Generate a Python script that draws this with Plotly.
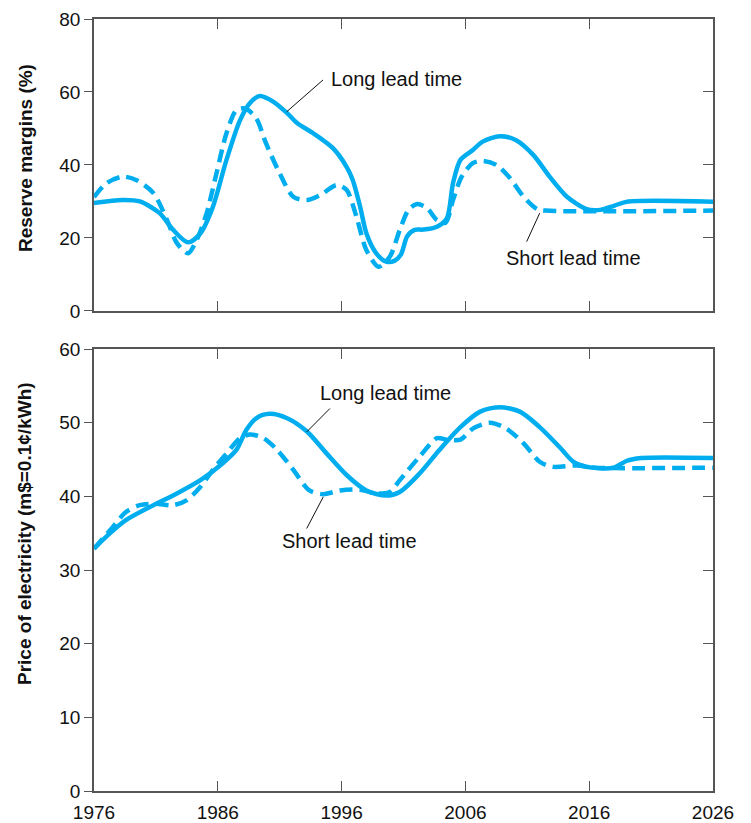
import plotly.graph_objects as go

# ---------------- data ----------------
top_long_year = [1976, 1978.3, 1979.7, 1981.3, 1982.4, 1983.6, 1984.6, 1985.6, 1986.7, 1987.8,
                 1988.6, 1989.4, 1990.5, 1991.6, 1992.4, 1993.7, 1995.3, 1996.4, 1996.9, 1997.5,
                 1998.0, 1998.8, 1999.6, 2000.3, 2000.8, 2001.3, 2001.9, 2002.6, 2003.7, 2004.5,
                 2005.0, 2005.6, 2006.6, 2007.4, 2008.8, 2010.1, 2011.5, 2012.8, 2014.2, 2015.8,
                 2016.9, 2018.0, 2019.0, 2026]
top_long_val = [29.6, 30.4, 30.0, 26.8, 22.2, 18.8, 21.3, 28.5, 41.4, 52.3,
                57.0, 58.9, 57.3, 54.2, 51.5, 48.7, 44.6, 39.5, 35.9, 28.5,
                21.3, 15.8, 13.5, 13.8, 15.5, 20.5, 22.2, 22.3, 23.1, 25.4,
                35.0, 41.4, 44.1, 46.4, 47.9, 46.8, 42.7, 36.8, 31.3, 27.9,
                27.7, 28.8, 29.9, 29.9]

top_short_year = [1976, 1977, 1978.3, 1979.4, 1980.8, 1981.9, 1982.7, 1983.6, 1984.3, 1985.1,
                  1985.9, 1986.7, 1987.5, 1988.2, 1989.1, 1989.9, 1991.0, 1992.1, 1993.2, 1994.3,
                  1995.6, 1996.4, 1997.2, 1998.0, 1999.0, 1999.9, 2000.7, 2001.4, 2002.1, 2002.9,
                  2003.7, 2004.4, 2005.0, 2005.7, 2006.6, 2007.4, 2008.5, 2009.6, 2010.7, 2011.8,
                  2012.5, 2026]
top_short_val = [31.2, 35.0, 36.8, 35.9, 32.3, 24.9, 18.6, 15.8, 19.5, 26.8,
                 37.8, 48.7, 55.0, 55.5, 52.8, 45.9, 37.7, 31.3, 30.4, 31.8,
                 34.5, 33.2, 25.8, 16.7, 12.1, 14.9, 22.2, 27.7, 29.3, 28.2,
                 24.9, 24.2, 30.4, 36.8, 40.5, 41.1, 40.0, 36.4, 31.3, 27.9,
                 27.5, 27.5]

bot_long_year = [1976, 1977.3, 1978.6, 1980.8, 1982.7, 1984.6, 1986.4, 1987.5, 1988.3, 1989.1,
                 1990.2, 1991.6, 1993.2, 1994.8, 1996.4, 1998.0, 1999.6, 2000.7, 2002.3, 2003.9,
                 2005.6, 2007.2, 2008.8, 2010.4, 2012.0, 2013.6, 2014.8, 2016.2, 2018.0, 2019.0,
                 2020.2, 2026]
bot_long_val = [32.9, 35.0, 36.8, 38.8, 40.4, 42.2, 44.5, 46.3, 49.0, 50.6,
                51.2, 50.6, 48.8, 45.8, 42.9, 40.8, 40.1, 40.6, 43.1, 46.3,
                49.4, 51.5, 52.1, 51.5, 49.4, 46.7, 44.6, 43.9, 43.9, 44.8,
                45.2, 45.2]

bot_short_year = [1976, 1977.3, 1978.6, 1979.7, 1981.0, 1982.4, 1983.5, 1984.6, 1985.6, 1986.7,
                  1987.8, 1988.6, 1989.7, 1990.8, 1992.1, 1993.4, 1994.5, 1995.9, 1997.5, 1998.8,
                  1999.9, 2000.7, 2002.3, 2003.7, 2004.5, 2005.6, 2006.6, 2008.0, 2009.3, 2010.7,
                  2012.0, 2013.1, 2015.0, 2016.5, 2026]
bot_short_val = [32.9, 35.4, 37.9, 38.8, 39.0, 38.8, 39.5, 41.3, 43.6, 45.8,
                 47.9, 48.4, 47.9, 46.3, 43.6, 40.8, 40.3, 40.8, 40.9, 40.4,
                 40.6, 42.2, 45.4, 47.9, 47.7, 47.7, 49.2, 50.0, 49.2, 47.2,
                 44.7, 44.0, 44.2, 43.9, 43.9]

year_ticks = [1976, 1986, 1996, 2006, 2016, 2026]
top_ticks = [0, 20, 40, 60, 80]
bot_ticks = [0, 10, 20, 30, 40, 50, 60]

label_long = "Long lead time"
label_short = "Short lead time"
title_top = "Reserve margins (%)"
title_bot = "Price of electricity (m$=0.1¢/kWh)"

# ---------------- style ----------------
CYAN = "#00AEEF"
FRAME = "#555555"
FONT = "Liberation Sans, Arial, Helvetica, sans-serif"
LW = 4.5
DASH = "13px,7px"

fig = go.Figure()

def add_line(x, y, xa, ya, dashed):
    fig.add_trace(go.Scatter(
        x=x, y=y, xaxis=xa, yaxis=ya, mode="lines",
        line=dict(color=CYAN, width=LW, shape="spline", smoothing=0.8,
                  dash=DASH if dashed else "solid"),
        showlegend=False, hoverinfo="skip"))

add_line(top_short_year, top_short_val, "x", "y", True)
add_line(top_long_year, top_long_val, "x", "y", False)
add_line(bot_short_year, bot_short_val, "x2", "y2", True)
add_line(bot_long_year, bot_long_val, "x2", "y2", False)

# invisible companions so the right-hand (inside-tick) axes are drawn
for xs, ys, xa, ya in [(top_long_year, top_long_val, "x", "y3"),
                       (bot_long_year, bot_long_val, "x2", "y4")]:
    fig.add_trace(go.Scatter(x=xs, y=ys, xaxis=xa, yaxis=ya, mode="lines",
                             line=dict(width=0, color="rgba(0,0,0,0)"),
                             showlegend=False, hoverinfo="skip"))

top_dom = [0.6218, 1.0]
bot_dom = [0.0, 0.5725]

xcommon = dict(range=[1976, 2026], tickvals=year_ticks, ticks="inside", ticklen=10,
               tickwidth=1.3, tickcolor=FRAME, showline=True, linecolor=FRAME, linewidth=1.5,
               mirror="ticks", showgrid=False, zeroline=False, automargin=False,
               ticklabelstandoff=3,
               tickfont=dict(family=FONT, size=19, color="#111"))

ycommon = dict(ticks="outside", ticklen=8, tickwidth=1.3, tickcolor=FRAME,
               showline=True, linecolor=FRAME, linewidth=1.5, mirror=True,
               showgrid=False, zeroline=False, automargin=False,
               tickfont=dict(family=FONT, size=19, color="#111"))

yright = dict(ticks="inside", ticklen=10, tickwidth=1.3, tickcolor=FRAME,
              showline=False, showgrid=False, zeroline=False, showticklabels=False,
              side="right", automargin=False)

fig.update_layout(
    width=751, height=823,
    margin=dict(l=94, r=38, t=19, b=32),
    paper_bgcolor="white", plot_bgcolor="white",
    xaxis=dict(**xcommon, domain=[0, 1], anchor="y", showticklabels=False),
    yaxis=dict(**ycommon, domain=top_dom, anchor="x", range=[0, 80], tickvals=top_ticks),
    xaxis2=dict(**xcommon, domain=[0, 1], anchor="y2", showticklabels=True),
    yaxis2=dict(**ycommon, domain=bot_dom, anchor="x2", range=[0, 60], tickvals=bot_ticks),
    yaxis3=dict(**yright, overlaying="y", anchor="x", range=[0, 80], tickvals=top_ticks),
    yaxis4=dict(**yright, overlaying="y2", anchor="x2", range=[0, 60], tickvals=bot_ticks),
)

# leader lines (annotation decoration)
leaders = [
    ("x", "y", 1991.57, 54.6, 1994.5, 63.3),
    ("x", "y", 2012.0, 26.8, 2010.95, 19.0),
    ("x2", "y2", 1993.18, 48.75, 1995.06, 51.93),
    ("x2", "y2", 1994.52, 39.93, 1993.18, 35.64),
]
for xr, yr, x0, y0, x1, y1 in leaders:
    fig.add_shape(type="line", xref=xr, yref=yr, x0=x0, y0=y0, x1=x1, y1=y1,
                  line=dict(color="#111", width=1))

labels = [
    ("x", "y", 1995.0, 63.6, label_long),
    ("x", "y", 2009.1, 14.5, label_short),
    ("x2", "y2", 1994.1, 54.0, label_long),
    ("x2", "y2", 1991.0, 33.96, label_short),
]
for xr, yr, x, y, t in labels:
    fig.add_annotation(xref=xr, yref=yr, x=x, y=y, text=t, showarrow=False,
                       xanchor="left", yanchor="middle",
                       font=dict(family=FONT, size=20, color="#111"))

for y, t in [(0.8199, title_top), (0.3342, title_bot)]:
    fig.add_annotation(xref="paper", yref="paper", x=-0.1115, y=y, text="<b>%s</b>" % t,
                       showarrow=False, textangle=-90, xanchor="center", yanchor="middle",
                       font=dict(family=FONT, size=19, color="#111"))

fig.write_html("out.html", config={"displayModeBar": False},
               post_script="document.body.style.margin='0';document.body.style.overflow='hidden';")
